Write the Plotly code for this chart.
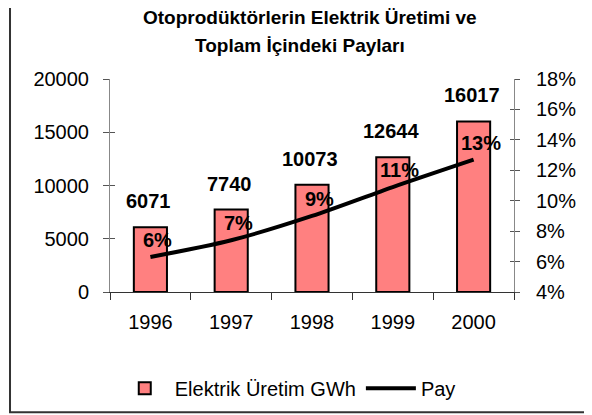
import plotly.graph_objects as go

years = ["1996", "1997", "1998", "1999", "2000"]
production_gwh = [6071, 7740, 10073, 12644, 16017]
share = [0.063, 0.074, 0.090, 0.109, 0.127]

title_line1 = "Otoprodüktörlerin Elektrik Üretimi ve"
title_line2 = "Toplam İçindeki Payları"
bar_name = "Elektrik Üretim GWh"
line_name = "Pay"

FONT = "Arial, 'Liberation Sans', sans-serif"

fig = go.Figure()
fig.add_trace(go.Bar(
    x=years, y=production_gwh, name=bar_name,
    marker=dict(color="#FF8080", line=dict(color="black", width=2)),
    width=0.41,
))
fig.add_trace(go.Scatter(
    x=years, y=share, name=line_name, yaxis="y2", mode="lines",
    line=dict(color="black", width=4, shape="spline", smoothing=0.8),
))
# invisible helper traces so the cross-tick axes are drawn
fig.add_trace(go.Scatter(x=years, y=production_gwh, yaxis="y3", mode="markers",
                         marker=dict(opacity=0), showlegend=False, hoverinfo="skip"))
fig.add_trace(go.Scatter(x=years, y=share, yaxis="y4", mode="markers",
                         marker=dict(opacity=0), showlegend=False, hoverinfo="skip"))

# value labels above bars (x given as category index)
for i, v in enumerate(production_gwh):
    fig.add_annotation(x=i, y=v, xref="x", yref="y", text=f"<b>{v}</b>",
                       showarrow=False, yanchor="middle", yshift=26, xshift=-2,
                       font=dict(family=FONT, size=20, color="black"))
# percent labels near line points
for i, s in enumerate(share):
    fig.add_annotation(x=i, y=s, xref="x", yref="y2", text=f"<b>{round(s*100)}%</b>",
                       showarrow=False, yanchor="middle", yshift=17, xshift=7,
                       font=dict(family=FONT, size=20, color="black"))

# title lines
fig.add_annotation(x=0.495, y=1.2904, xref="paper", yref="paper", text=f"<b>{title_line1}</b>",
                   showarrow=False, xanchor="center", yanchor="middle",
                   font=dict(family=FONT, size=19, color="black"))
fig.add_annotation(x=0.47, y=1.1593, xref="paper", yref="paper", text=f"<b>{title_line2}</b>",
                   showarrow=False, xanchor="center", yanchor="middle",
                   font=dict(family=FONT, size=19, color="black"))

axis_font = dict(family=FONT, size=20, color="black")

fig.update_layout(
    width=584, height=407,
    margin=dict(l=102, r=78, t=71, b=122.5, autoexpand=False),
    paper_bgcolor="white", plot_bgcolor="white",
    font=dict(family=FONT, color="black"),
    showlegend=True,
    legend=dict(orientation="h", x=0.44, xanchor="center", y=-0.452, yanchor="middle",
                itemwidth=50,
                font=dict(family=FONT, size=20, color="black"), bgcolor="rgba(0,0,0,0)"),
    bargap=0.59,
    xaxis=dict(type="category", categoryorder="array", categoryarray=years,
               range=[-0.5, len(years) - 0.5], autorange=False,
               tickson="boundaries", ticks="outside", ticklen=7, tickangle=0,
               tickcolor="#333", tickwidth=1, showline=True, linecolor="#333", linewidth=1,
               showgrid=False, tickfont=axis_font, ticklabelstandoff=12),
    yaxis=dict(range=[0, 20000], dtick=5000, tickformat="d", ticks="outside", ticklen=6,
               tickcolor="#555", showline=True, linecolor="#888", linewidth=1,
               showgrid=False, zeroline=False, tickfont=axis_font, ticklabelstandoff=10),
    yaxis2=dict(range=[0.04, 0.18], dtick=0.02, tickformat=".0%", overlaying="y", side="right",
                ticks="outside", ticklen=5, tickcolor="#555", showline=True, linecolor="#888",
                linewidth=1, showgrid=False, zeroline=False, tickfont=axis_font,
                ticklabelstandoff=12),
    yaxis3=dict(range=[0, 20000], dtick=5000, overlaying="y", side="left",
                ticks="inside", ticklen=5, tickcolor="#555", showticklabels=False,
                showline=False, showgrid=False, zeroline=False),
    yaxis4=dict(range=[0.04, 0.18], dtick=0.02, overlaying="y", side="right",
                ticks="inside", ticklen=4, tickcolor="#555", showticklabels=False,
                showline=False, showgrid=False, zeroline=False),
)

# outer frame
fig.add_shape(type="rect", xref="paper", yref="paper",
              x0=-0.2475, x1=1.25, y0=-0.564, y1=1.37,
              line=dict(color="#333", width=2), fillcolor="rgba(0,0,0,0)", layer="below")

fig.write_html("out.html")
